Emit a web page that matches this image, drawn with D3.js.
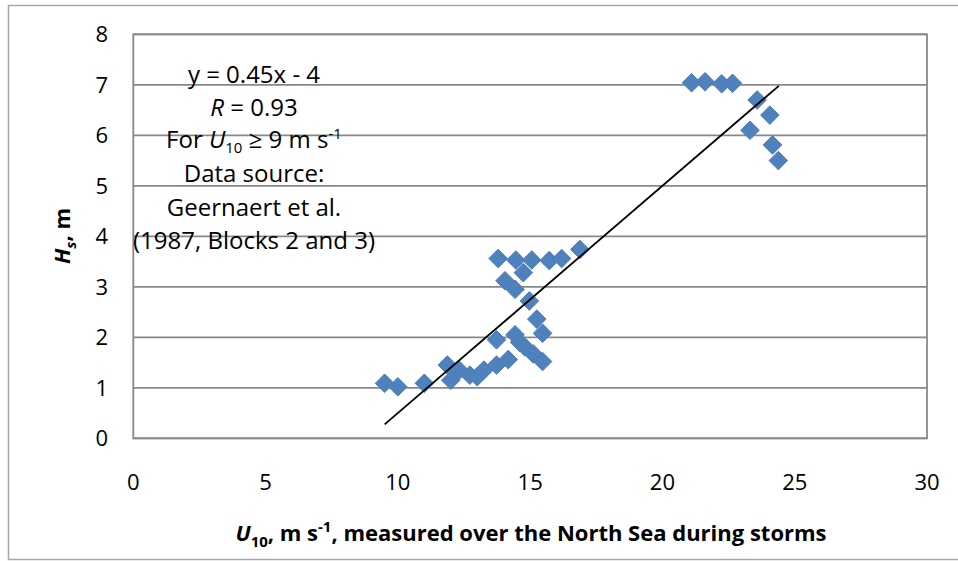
<!DOCTYPE html>
<html>
<head>
<meta charset="utf-8">
<script src="https://cdn.jsdelivr.net/npm/d3@7"></script>
<style>
  body { margin: 0; background: #fff; }
  svg { font-family: "Open Sans", Lato, sans-serif; }
</style>
</head>
<body>
<svg id="chart" width="958" height="561"></svg>
<script>
// Data: wind speed U10 (m/s) and wave height Hs (m)
var u10 = [9.5, 10.0, 11.0, 11.87, 12.0, 12.32, 12.72, 13.0, 13.25, 13.73, 14.17,
           13.73, 14.43, 14.6, 14.8, 15.12, 15.47, 15.47, 15.25, 14.97,
           14.05, 14.43, 13.79, 14.46, 15.06, 14.74, 15.72, 16.19, 16.88,
           21.1, 21.61, 22.24, 22.65, 23.58, 24.06, 23.31, 24.16, 24.38];
var hs  = [1.09, 1.02, 1.09, 1.45, 1.15, 1.35, 1.25, 1.22, 1.35, 1.45, 1.56,
           1.95, 2.05, 1.9, 1.81, 1.67, 1.52, 2.08, 2.36, 2.72,
           3.12, 2.95, 3.56, 3.53, 3.53, 3.28, 3.52, 3.56, 3.74,
           7.04, 7.06, 7.02, 7.03, 6.7, 6.4, 6.1, 5.81, 5.5];

// Fitted line y = 0.45x - 4 drawn over the data range
var fitX = [9.5, 24.4];
var slope = 0.45, intercept = -4;

var xTicks = [0, 5, 10, 15, 20, 25, 30];
var yTicks = [0, 1, 2, 3, 4, 5, 6, 7, 8];

var svg = d3.select("#chart");

// outer chart frame
svg.append("rect")
    .attr("x", 8.5).attr("y", 5.5)
    .attr("width", 958).attr("height", 554)
    .attr("fill", "none")
    .attr("stroke", "#a6a6a6")
    .attr("stroke-width", 1.5);

var plot = {left: 133.3, top: 34.3, right: 927, bottom: 438.3};

var x = d3.scaleLinear().domain([0, 30]).range([plot.left, plot.right]);
var y = d3.scaleLinear().domain([0, 8]).range([plot.bottom, plot.top]);

// gridlines
svg.append("g")
    .selectAll("line")
    .data(yTicks)
    .enter()
    .append("line")
    .attr("x1", plot.left).attr("x2", plot.right)
    .attr("y1", function(d) { return y(d); })
    .attr("y2", function(d) { return y(d); })
    .attr("stroke", "#888")
    .attr("stroke-width", 1.8);

// plot border
svg.append("rect")
    .attr("x", plot.left).attr("y", plot.top)
    .attr("width", plot.right - plot.left)
    .attr("height", plot.bottom - plot.top)
    .attr("fill", "none")
    .attr("stroke", "#888")
    .attr("stroke-width", 1.8);

// y tick labels
svg.append("g")
    .selectAll("text")
    .data(yTicks)
    .enter()
    .append("text")
    .attr("x", 108)
    .attr("y", function(d) { return y(d) + 8; })
    .attr("text-anchor", "end")
    .attr("font-size", 22)
    .text(function(d) { return d; });

// x tick labels
svg.append("g")
    .selectAll("text")
    .data(xTicks)
    .enter()
    .append("text")
    .attr("x", function(d) { return x(d); })
    .attr("y", 490)
    .attr("text-anchor", "middle")
    .attr("font-size", 22)
    .text(function(d) { return d; });

// markers (diamonds)
var diamond = d3.symbol().type(d3.symbolDiamond2).size(220);
svg.append("g")
    .selectAll("path")
    .data(d3.range(u10.length))
    .enter()
    .append("path")
    .attr("d", diamond)
    .attr("transform", function(i) { return "translate(" + x(u10[i]) + "," + y(hs[i]) + ")"; })
    .attr("fill", "#4f81bd")
    .attr("stroke", "#4a7ebb")
    .attr("stroke-width", 1);

// trend line
svg.append("path")
    .datum(fitX)
    .attr("d", d3.line()
        .x(function(d) { return x(d); })
        .y(function(d) { return y(slope * d + intercept); }))
    .attr("stroke", "#000")
    .attr("stroke-width", 1.8)
    .attr("fill", "none");

// annotation block
var note = svg.append("g")
    .attr("font-size", 24)
    .attr("text-anchor", "middle");
var cx = 254;
note.append("text").attr("x", cx).attr("y", 83).text("y = 0.45x - 4");
var r = note.append("text").attr("x", cx).attr("y", 116);
r.append("tspan").attr("font-style", "italic").text("R");
r.append("tspan").text(" = 0.93");
var f = note.append("text").attr("x", cx).attr("y", 148);
f.append("tspan").text("For ");
f.append("tspan").attr("font-style", "italic").text("U");
f.append("tspan").attr("font-size", 15).attr("dy", 5).text("10");
f.append("tspan").attr("dy", -5).text(" \u2265 9 m s");
f.append("tspan").attr("font-size", 15).attr("dy", -9).text("-1");
note.append("text").attr("x", cx).attr("y", 182).text("Data source:");
note.append("text").attr("x", cx).attr("y", 216).text("Geernaert et al.");
note.append("text").attr("x", cx).attr("y", 249).text("(1987, Blocks 2 and 3)");

// x axis title
var xt = svg.append("text")
    .attr("x", 531).attr("y", 541)
    .attr("text-anchor", "middle")
    .attr("font-size", 22)
    .attr("font-weight", "bold");
xt.append("tspan").attr("font-style", "italic").text("U");
xt.append("tspan").attr("font-size", 15).attr("dy", 6).text("10");
xt.append("tspan").attr("dy", -6).text(", m s");
xt.append("tspan").attr("font-size", 15).attr("dy", -9).text("-1");
xt.append("tspan").attr("dy", 9).text(", measured over the North Sea during storms");

// y axis title
var yt = svg.append("text")
    .attr("transform", "translate(70,236) rotate(-90)")
    .attr("text-anchor", "middle")
    .attr("font-size", 22)
    .attr("font-weight", "bold");
yt.append("tspan").attr("font-style", "italic").text("H");
yt.append("tspan").attr("font-style", "italic").attr("font-size", 15).attr("dy", 6).text("s");
yt.append("tspan").attr("dy", -6).text(", m");
</script>
</body>
</html>
